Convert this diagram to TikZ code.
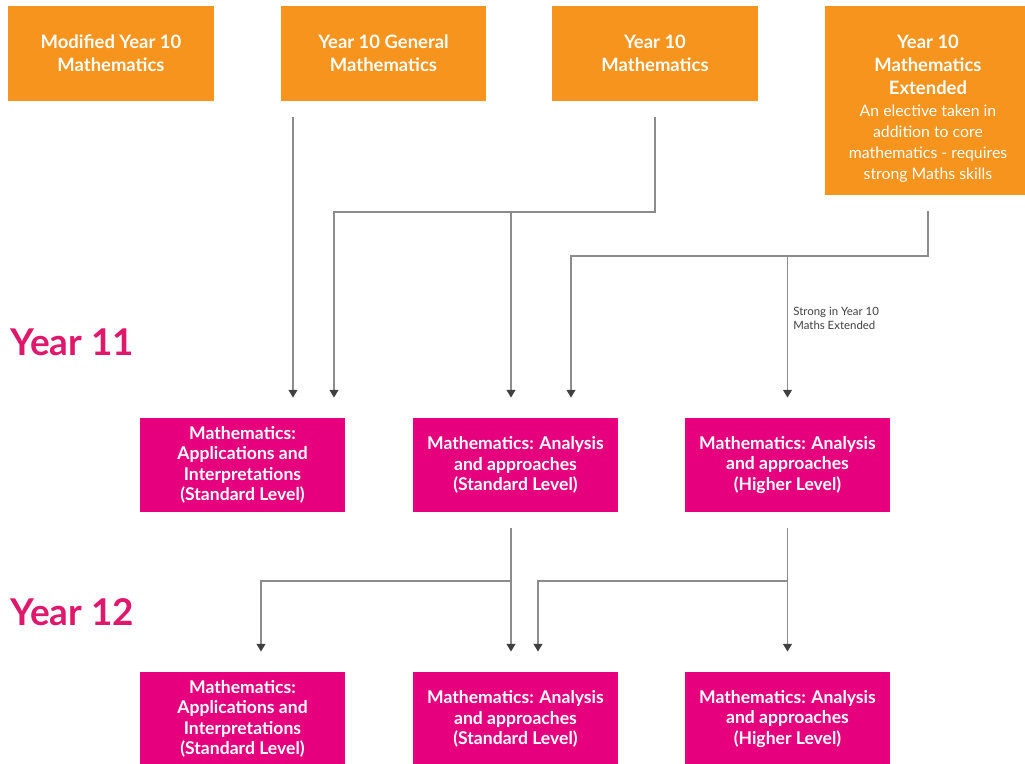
\documentclass[tikz,border=0pt]{standalone}
\usepackage{fontspec}
\setmainfont{Lato}
\usetikzlibrary{calc}
\usetikzlibrary{arrows.meta}
\definecolor{tang}{HTML}{F7941D}
\definecolor{mag}{HTML}{E6007E}
\definecolor{yrpink}{HTML}{E0186C}
\definecolor{linegray}{HTML}{8C8C8C}
% lighter lines of the elective box
\newcommand{\elect}[1]{{\mdseries\fontsize{9}{12}\selectfont #1}}
\tikzset{ob/.style={minimum width=4.12cm, minimum height=1.9cm, fill=tang, text=white, font=\bfseries\fontsize{10.5}{13}\selectfont, align=center, inner sep=0pt},
        mb/.style={minimum width=4.1cm, minimum height=1.88cm, fill=mag, text=white, font=\bfseries\fontsize{10}{11.6}\selectfont, align=center, inner sep=0pt},
        yr/.style={text=yrpink, font=\bfseries\fontsize{21}{24}\selectfont, anchor=base west, inner sep=0pt},
        wire/.style={draw=linegray, line width=1pt, -{Triangle[width=5pt, length=4.5pt, color=darkgray]}, shorten >=0.4cm},
        feed/.style={shorten <=0.32cm},
        note/.style={text=darkgray, font=\fontsize{6.5}{8}\selectfont, align=left, anchor=west, inner sep=0pt}}

\begin{document}
\begin{tikzpicture}[x=0.02cm, y=-0.02cm]
    \useasboundingbox (0,0) rectangle (1025,764);
    \clip (0,0) rectangle (1025,764);

    % year 10 courses
    \node[ob] (modyr) at (111,53.5) {Modified Year 10\\Mathematics};
    \node[ob] (gen) at (383.5,53.5) {Year 10 General\\Mathematics};
    \node[ob] (y10) at (655,53.5) {Year 10\\Mathematics};
    \node[ob, minimum height=3.78cm] (ext) at (928,100.5) {\rule{0pt}{0.59cm}Year 10\\Mathematics\\Extended\\[-0.5pt]\elect{An elective taken in}\\[-1pt]\elect{addition to core}\\[-1pt]\elect{mathematics - requires}\\[-1pt]\elect{strong Maths skills}};

    \node[yr] (yr11) at (10,355) {Year 11};
    \node[yr] (yr12) at (10,625) {Year 12};

    % same three courses in both years
    \foreach \row/\y in {11/465, 12/719} {
        \node[mb] (ai\row) at (242.5,\y) {Mathematics:\\Applications and\\Interpretations\\(Standard Level)};
        \node[mb] (aa\row) at (515.5,\y) {Mathematics: Analysis\\and approaches\\(Standard Level)};
        \node[mb] (ah\row) at (787.5,\y) {Mathematics: Analysis\\and approaches\\(Higher Level)};
    }

    \coordinate (k1) at (293,0);
    \coordinate (k2) at (334,0);
    \coordinate (hub10) at (655,212);
    \coordinate (k3) at (511,212);
    \coordinate (k4) at (571,0);
    \coordinate (hubext) at (928,256);
    \coordinate (k5) at (261,0);
    \coordinate (k6) at (538,0);
    \coordinate (hubaa) at (511,581);
    \coordinate (hubhl) at (787.5,581);

    \draw[wire, feed] (gen.south -| k1) -- (k1 |- ai11.north);
    \draw[wire, feed] (y10.south) -- (hub10) -| (k2 |- ai11.north);
    \draw[wire] (k3) -- (k3 |- aa11.north);
    \draw[wire, feed] (ext.south) -- (hubext) -| (k4 |- aa11.north);
    \draw[wire] (hubext -| ah11.north) -- (ah11.north);
    \node[note] (strong) at (793,318) {Strong in Year 10\\Maths Extended};

    \draw[wire, feed] (aa11.south -| k3) -- (k3 |- aa12.north);
    \draw[wire] (hubaa) -| (k5 |- ai12.north);
    \draw[wire, feed] (ah11.south) -- (ah12.north);
    \draw[wire] (hubhl) -| (k6 |- aa12.north);
\end{tikzpicture}
\end{document}
